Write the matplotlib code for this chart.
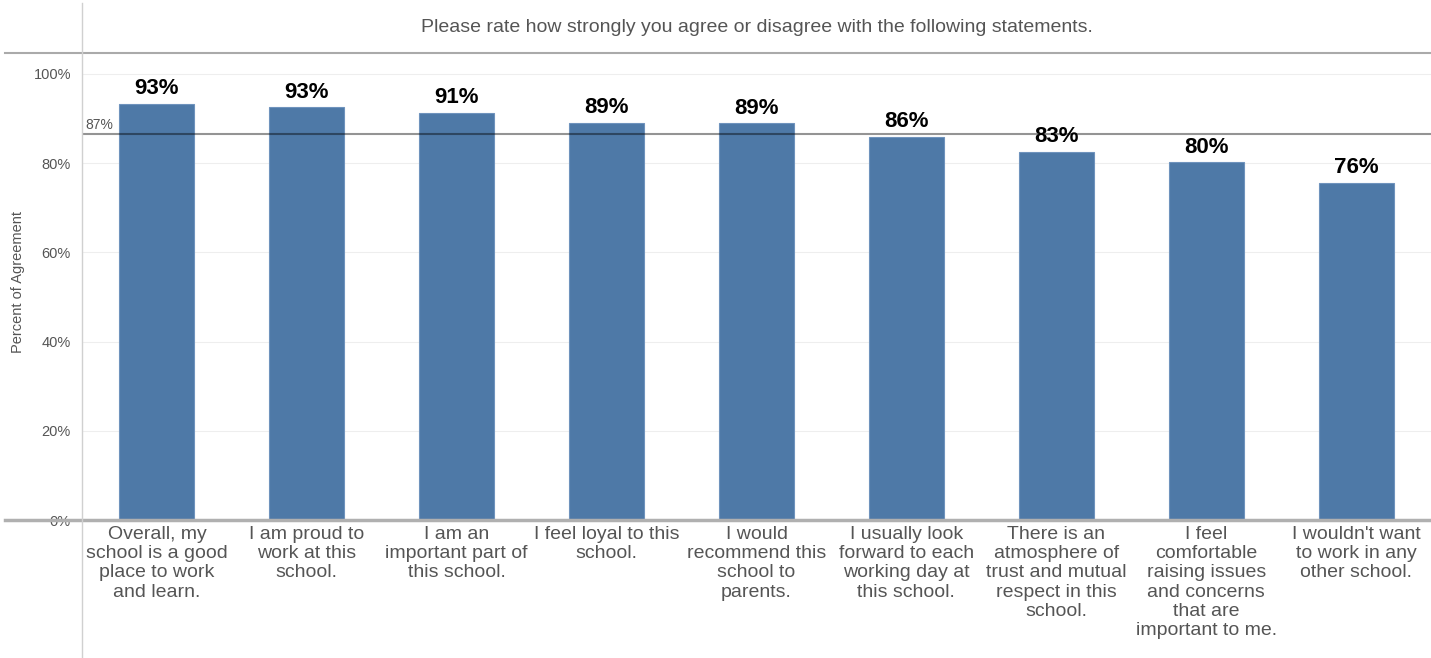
import matplotlib.pyplot as plt
from matplotlib.lines import Line2D
import numpy as np

plt.rcParams['font.family'] = ['Liberation Sans', 'DejaVu Sans']

statements = [
    "Overall, my\nschool is a good\nplace to work\nand learn.",
    "I am proud to\nwork at this\nschool.",
    "I am an\nimportant part of\nthis school.",
    "I feel loyal to this\nschool.",
    "I would\nrecommend this\nschool to\nparents.",
    "I usually look\nforward to each\nworking day at\nthis school.",
    "There is an\natmosphere of\ntrust and mutual\nrespect in this\nschool.",
    "I feel\ncomfortable\nraising issues\nand concerns\nthat are\nimportant to me.",
    "I wouldn't want\nto work in any\nother school.",
]
agreement = [93.3, 92.6, 91.3, 89.1, 89.0, 85.9, 82.6, 80.2, 75.6]
yticks = [0, 20, 40, 60, 80, 100]

W, H = 1431, 658
fig = plt.figure(figsize=(W / 100, H / 100), dpi=100)
ax = fig.add_axes([82 / W, (H - 520) / H, (W - 82) / W, (520 - 53) / H])

x = np.arange(len(agreement))
ax.bar(x, agreement, width=0.5, color='#4e79a7', edgecolor='#6f93bd', linewidth=0.8, zorder=2)
for xi, v in zip(x, agreement):
    ax.text(xi, v + 1.0, f"{v:.0f}%", ha='center', va='bottom',
            fontsize=16, fontweight='bold', color='black')

avg = np.mean(agreement)
ax.axhline(avg, color='black', alpha=0.42, lw=1.5, zorder=3)
ax.text(-0.48, avg + 0.3, f"{avg:.0f}%", fontsize=10, color='#555555', ha='left', va='bottom')

ax.set_xlim(-0.5, len(agreement) - 0.5)
ax.set_ylim(0, 104.7)
ax.set_yticks(yticks)
ax.set_yticklabels([f"{t}%" for t in yticks], fontsize=10.5, color='#555555')
ax.yaxis.grid(True, color='#eeeeee', lw=0.8, zorder=0)
ax.tick_params(axis='y', length=0, pad=8)
ax.set_xticks(x)
ax.set_xticklabels(statements, fontsize=14, color='#555555', linespacing=1.18, va='top')
ax.tick_params(axis='x', length=0, pad=4)
for s in ax.spines.values():
    s.set_visible(False)

# frame lines around the header and the category area
fig.add_artist(Line2D([5 / W, 1], [1 - 53 / H] * 2, color='#aaaaaa', lw=1.5))
fig.add_artist(Line2D([5 / W, 1], [1 - 520 / H] * 2, color='#b0b0b0', lw=2.5))
fig.add_artist(Line2D([82 / W] * 2, [0, 1 - 3 / H], color='#d0d0d0', lw=1))

fig.text((82 + W) / 2 / W, 1 - 27 / H,
         "Please rate how strongly you agree or disagree with the following statements.",
         ha='center', va='center', fontsize=14, color='#555555')
fig.text(18 / W, 1 - 282 / H, "Percent of Agreement", rotation=90,
         ha='center', va='center', fontsize=10.5, color='#555555')

fig.savefig('out.png', dpi=100)
